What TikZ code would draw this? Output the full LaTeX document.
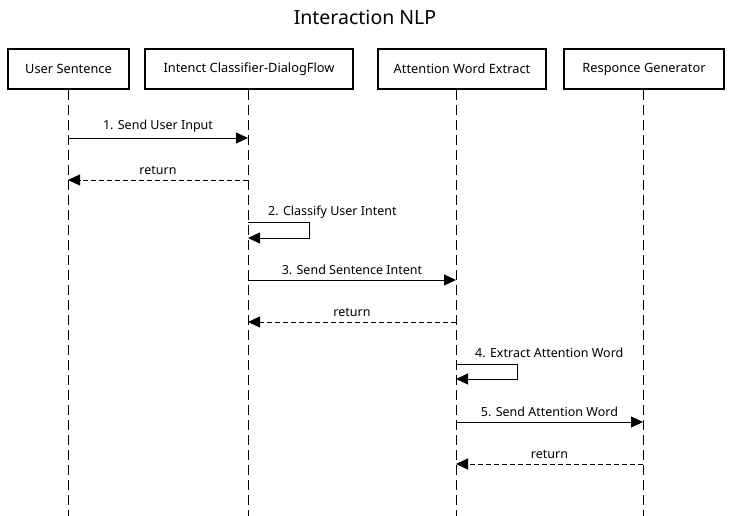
\documentclass[tikz,border=0pt]{standalone}
\usepackage{fontspec}
\setmainfont{Noto Sans}
\usetikzlibrary{arrows.meta}
\begin{document}
\begin{tikzpicture}[x=1pt,y=-1pt,
  actor/.style={draw,line width=2pt,minimum height=40pt,inner sep=0pt,font=\fontsize{12.8}{15}\selectfont,anchor=north west},
  life/.style={line width=0.9pt,dash pattern=on 10pt off 5pt},
  msg/.style={line width=0.9pt,-{Triangle[length=12pt,width=11pt]}},
  ret/.style={msg,dash pattern=on 5pt off 3pt},
  lbl/.style={font=\fontsize{12.5}{15}\selectfont,inner sep=0pt}]
\useasboundingbox (0,0) rectangle (729,516);
\node[font=\fontsize{19.5}{23}\selectfont] (title) at (365,17) {Interaction NLP};
\node[actor,minimum width=121pt] (a1) at (7,48) {User Sentence};
\node[actor,minimum width=208pt] (a2) at (144,48) {Intenct Classifier-DialogFlow};
\node[actor,minimum width=168pt] (a3) at (377,48) {Attention Word Extract};
\node[actor,minimum width=160pt] (a4) at (563,48) {Responce Generator};
\coordinate (e1) at (68,516);
\coordinate (e2) at (248,516);
\coordinate (e3) at (456,516);
\coordinate (e4) at (643,516);
\draw[life] (a1.south -| e1) -- (e1);
\draw[life] (a2.south -| e2) -- (e2);
\draw[life] (a3.south -| e3) -- (e3);
\draw[life] (a4.south -| e4) -- (e4);
% 1
\coordinate (m1s) at (68,138); \coordinate (m1e) at (248,138);
\draw[msg] (m1s) -- node[lbl,above=5pt] (l1) {1. Send User Input} (m1e);
% return
\coordinate (r1s) at (248,180); \coordinate (r1e) at (68,180);
\draw[ret] (r1s) -- node[lbl,above=5pt] (lr1) {return} (r1e);
% 2 self
\coordinate (s2a) at (248,222); \coordinate (s2b) at (309,222);
\coordinate (s2c) at (309,238); \coordinate (s2d) at (248,238);
\draw[msg] (s2a) -- (s2b) -- (s2c) -- (s2d);
\node[lbl,anchor=west] (l2) at (268,212) {2. Classify User Intent};
% 3
\coordinate (m3s) at (248,280); \coordinate (m3e) at (456,280);
\draw[msg] (m3s) -- node[lbl,above=5pt] (l3) {3. Send Sentence Intent} (m3e);
\coordinate (r3s) at (456,322); \coordinate (r3e) at (248,322);
\draw[ret] (r3s) -- node[lbl,above=5pt] (lr3) {return} (r3e);
% 4 self
\coordinate (s4a) at (456,364); \coordinate (s4b) at (517,364);
\coordinate (s4c) at (517,379); \coordinate (s4d) at (456,379);
\draw[msg] (s4a) -- (s4b) -- (s4c) -- (s4d);
\node[lbl,anchor=west] (l4) at (475,353) {4. Extract Attention Word};
% 5
\coordinate (m5s) at (456,422); \coordinate (m5e) at (643,422);
\draw[msg] (m5s) -- node[lbl,above=5pt] (l5) {5. Send Attention Word} (m5e);
\coordinate (r5s) at (643,464); \coordinate (r5e) at (456,464);
\draw[ret] (r5s) -- node[lbl,above=5pt] (lr5) {return} (r5e);
\end{tikzpicture}
\end{document}
